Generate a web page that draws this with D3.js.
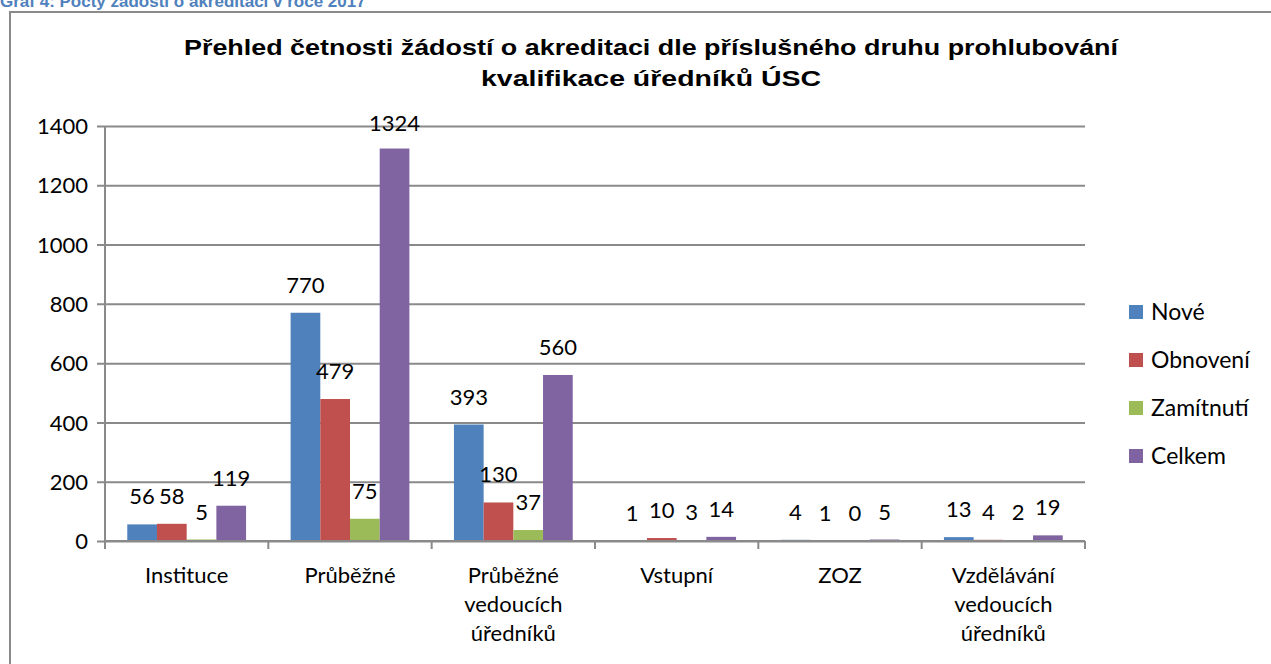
<!DOCTYPE html>
<html>
<head>
<meta charset="utf-8">
<script src="https://cdnjs.cloudflare.com/ajax/libs/d3/7.8.5/d3.min.js"></script>
<style>
  body { margin: 0; background: #fff; }
  svg { display: block; }
</style>
</head>
<body>
<svg width="1271" height="664"></svg>
<script>
// Data
var categories = [
  ["Instituce"],
  ["Průběžné"],
  ["Průběžné", "vedoucích", "úředníků"],
  ["Vstupní"],
  ["ZOZ"],
  ["Vzdělávání", "vedoucích", "úředníků"]
];
var seriesNames = ["Nové", "Obnovení", "Zamítnutí", "Celkem"];
var nove = [56, 770, 393, 1, 4, 13];
var obnoveni = [58, 479, 130, 10, 1, 4];
var zamitnuti = [5, 75, 37, 3, 0, 2];
var celkem = [119, 1324, 560, 14, 5, 19];
var yTicks = [0, 200, 400, 600, 800, 1000, 1200, 1400];
var colors = ["#4f81bd", "#c0504d", "#9bbb59", "#8064a2"];

var series = [nove, obnoveni, zamitnuti, celkem];

var svg = d3.select("svg"),
    width = +svg.attr("width"),
    height = +svg.attr("height");

var font = "Lato, 'Open Sans', sans-serif";
var grey = "#8a8a8a";

// caption above the chart (cut off at the top)
svg.append("text")
    .attr("x", 0)
    .attr("y", 7)
    .attr("fill", "#4f81bd")
    .style("font", "bold 17px 'Liberation Sans', Arial, sans-serif")
    .text("Graf 4: Počty žádostí o akreditaci v roce 2017");

// frame
svg.append("path")
    .attr("d", "M10,680V12H1290")
    .attr("fill", "none")
    .attr("stroke", grey)
    .attr("stroke-width", 2);

// title
var title = ["Přehled četnosti žádostí o akreditaci dle příslušného druhu prohlubování",
             "kvalifikace úředníků ÚSC"];
var titleW = [934, 340];
svg.selectAll(".title")
  .data(title)
  .enter().append("text")
    .attr("class", "title")
    .attr("x", 651)
    .attr("y", function(d, i) { return 55 + i * 31; })
    .attr("text-anchor", "middle")
    .attr("textLength", function(d, i) { return titleW[i]; })
    .attr("lengthAdjust", "spacingAndGlyphs")
    .style("font", "bold 22px 'Liberation Sans', Arial, sans-serif")
    .text(function(d) { return d; });

// scales
var x0 = d3.scaleBand()
    .domain(d3.range(categories.length))
    .range([105, 1085]);

var x1 = d3.scaleBand()
    .domain(d3.range(series.length))
    .range([0, x0.bandwidth()])
    .paddingOuter(0.75)
    .paddingInner(0);

var y = d3.scaleLinear()
    .domain([0, 1400])
    .range([541, 126]);

// gridlines + y axis
var yAxis = svg.append("g")
    .attr("transform", "translate(105,0)")
    .call(d3.axisLeft(y).tickValues(yTicks).tickFormat(d3.format("d"))
      .tickSize(-980).tickPadding(17).tickSizeOuter(0));
yAxis.select(".domain").remove();
yAxis.selectAll(".tick line")
    .attr("x1", -8)
    .attr("stroke", grey)
    .attr("stroke-width", 2);
yAxis.selectAll(".tick text")
    .style("font", "22px " + font)
    .attr("fill", "#000")
    .attr("dy", "0.35em");

// vertical axis line
svg.append("line")
    .attr("x1", 105).attr("x2", 105)
    .attr("y1", y(1400)).attr("y2", y(0))
    .attr("stroke", grey)
    .attr("stroke-width", 2);

// bars
var groups = svg.selectAll(".grp")
  .data(categories)
  .enter().append("g")
    .attr("class", "grp")
    .attr("transform", function(d, i) { return "translate(" + x0(i) + ",0)"; });

groups.selectAll("rect")
  .data(function(d, i) { return series.map(function(s, k) { return { k: k, v: s[i] }; }); })
  .enter().append("rect")
    .attr("x", function(d) { return x1(d.k); })
    .attr("width", x1.bandwidth())
    .attr("y", function(d) { return y(d.v); })
    .attr("height", function(d) { return y(0) - y(d.v); })
    .attr("fill", function(d) { return colors[d.k]; });

groups.selectAll(".lbl")
  .data(function(d, i) { return series.map(function(s, k) { return { k: k, v: s[i] }; }); })
  .enter().append("text")
    .attr("class", "lbl")
    .attr("x", function(d) { return x1(d.k) + x1.bandwidth() / 2; })
    .attr("y", function(d) { return Math.max(y(d.v) - 20, 131); })
    .attr("text-anchor", "middle")
    .style("font", "22px " + font)
    .text(function(d) { return d.v; });

// x axis line (drawn over bar bottoms)
svg.append("line")
    .attr("x1", 105).attr("x2", 1085)
    .attr("y1", y(0)).attr("y2", y(0))
    .attr("stroke", grey)
    .attr("stroke-width", 2);

// category ticks
svg.selectAll(".xtick")
  .data(d3.range(categories.length + 1))
  .enter().append("line")
    .attr("x1", function(d) { return 105 + d * x0.bandwidth(); })
    .attr("x2", function(d) { return 105 + d * x0.bandwidth(); })
    .attr("y1", y(0))
    .attr("y2", y(0) + 8)
    .attr("stroke", grey)
    .attr("stroke-width", 2);

// category labels
var catLbl = svg.selectAll(".cat")
  .data(categories)
  .enter().append("text")
    .attr("class", "cat")
    .attr("x", function(d, i) { return x0(i) + x0.bandwidth() / 2; })
    .attr("y", 583)
    .attr("text-anchor", "middle")
    .style("font", "22px " + font);
catLbl.selectAll("tspan")
  .data(function(d) { return d; })
  .enter().append("tspan")
    .attr("x", function() { return d3.select(this.parentNode).attr("x"); })
    .attr("dy", function(d, i) { return i === 0 ? 0 : 29; })
    .text(function(d) { return d; });

// legend
var legend = svg.selectAll(".leg")
  .data(seriesNames)
  .enter().append("g")
    .attr("class", "leg")
    .attr("transform", function(d, i) { return "translate(1129," + (312 + i * 48) + ")"; });
legend.append("rect")
    .attr("x", 0).attr("y", -7)
    .attr("width", 14).attr("height", 14)
    .attr("fill", function(d, i) { return colors[i]; });
legend.append("text")
    .attr("x", 22)
    .attr("y", 8)
    .style("font", "23px " + font)
    .text(function(d) { return d; });
</script>
</body>
</html>
